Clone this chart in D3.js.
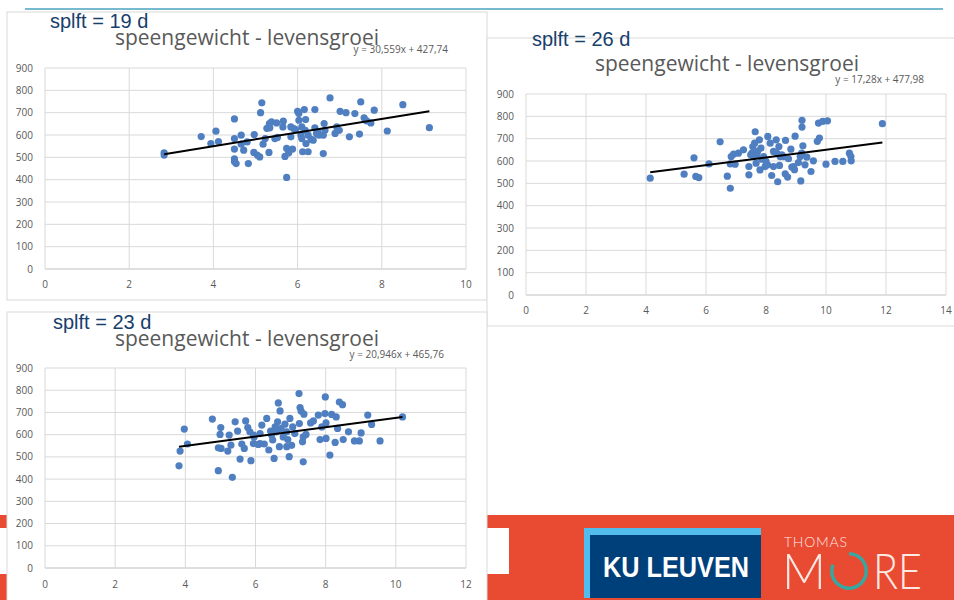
<!DOCTYPE html>
<html>
<head>
<meta charset="utf-8">
<script src="https://cdn.jsdelivr.net/npm/d3@7"></script>
<style>
  body { margin: 0; background: #fff; }
  svg { display: block; }
</style>
</head>
<body>
<svg id="slide" width="954" height="600"></svg>
<script>
// splft = 19 d
var x19 = [2.83,2.83,3.71,3.94,4.06,4.12,4.50,4.50,4.50,4.50,4.50,4.54,4.66,4.72,4.66,4.83,4.80,4.97,4.96,5.04,
  5.10,5.12,5.15,5.18,5.23,5.32,5.27,5.33,5.38,5.34,5.46,5.50,5.52,5.66,5.65,5.70,5.74,5.74,5.79,5.84,
  5.84,5.88,5.91,6.00,6.03,6.03,6.10,6.10,6.12,6.16,6.19,6.18,6.20,6.25,6.25,6.32,6.41,6.41,6.45,6.51,
  6.61,6.63,6.61,6.65,6.77,6.89,6.93,6.99,7.01,7.15,7.23,7.36,7.47,7.50,7.58,7.64,7.74,7.82,8.13,8.50,
  9.13,6.37,6.48,5.95,6.08];
var y19 = [520,510,593,562,617,571,672,584,537,493,481,472,599,532,559,472,569,602,522,510,
  502,700,744,559,584,522,630,651,659,632,584,654,589,662,636,504,410,540,520,636,
  592,537,629,706,666,696,636,584,525,714,669,621,562,525,599,580,714,632,607,599,
  517,651,599,621,766,607,636,621,706,700,592,696,604,748,677,663,654,711,618,736,
  633,577,614,624,600];
var eq19 = [30.559, 427.74];

// splft = 26 d
var x26 = [4.14,5.27,5.60,5.66,5.76,6.10,6.47,6.71,6.81,6.81,6.84,6.92,6.97,7.08,7.25,7.43,7.43,7.53,7.56,7.64,
  7.62,7.67,7.72,7.78,7.80,7.83,7.92,8.00,8.05,8.06,8.14,8.19,8.25,8.34,8.39,8.43,8.45,8.47,8.58,8.64,
  8.65,8.72,8.75,8.83,8.86,8.97,8.95,9.08,9.16,9.19,9.23,9.20,9.20,9.30,9.36,9.50,9.58,9.71,9.78,9.75,
  9.89,10.00,10.05,10.30,10.56,10.78,10.83,10.84,11.88,7.49,7.58,7.69,7.86,7.97,8.25,8.36,8.53,8.92,9.14];
var y26 = [523,541,614,531,526,587,686,532,478,587,620,631,586,635,650,575,538,635,665,731,
  680,590,643,695,560,658,620,598,583,710,680,535,643,695,507,665,580,620,620,543,
  692,528,610,653,573,711,561,593,511,635,668,782,752,583,617,553,601,688,703,770,
  777,586,780,598,598,635,620,601,767,628,620,628,608,575,575,635,628,575,620];
var eq26 = [17.28, 477.98];

// splft = 23 d
var x23 = [3.82,3.85,3.97,4.06,4.77,4.94,4.94,4.99,5.01,5.02,5.21,5.25,5.30,5.34,5.42,5.49,5.56,5.61,5.68,5.72,
  5.78,5.84,5.87,5.94,5.96,6.08,6.18,6.25,6.32,6.38,6.43,6.49,6.53,6.56,6.63,6.65,6.68,6.70,6.73,6.79,
  6.84,6.89,6.92,6.96,6.98,7.03,7.06,7.12,7.24,7.25,7.27,7.30,7.34,7.36,7.36,7.38,7.44,7.57,7.65,7.79,
  7.84,7.89,7.99,7.98,8.01,8.01,8.12,8.17,8.27,8.30,8.34,8.39,8.48,8.50,8.65,8.82,8.96,9.01,9.20,9.31,
  9.55,10.19,6.13,6.46,6.60,6.13,6.89,5.94];
var y23 = [460,526,625,558,670,438,541,601,632,538,526,598,553,408,658,616,490,558,538,662,
  632,613,483,560,590,556,643,558,673,531,616,576,493,635,658,743,546,707,628,590,
  647,546,578,501,673,552,635,605,785,650,722,706,568,478,590,692,601,653,662,688,
  578,635,770,695,583,653,508,691,565,680,628,747,735,578,613,572,572,608,688,646,
  572,680,605,598,613,560,613,598];
var eq23 = [20.946, 465.76];

var yTicks = [0,100,200,300,400,500,600,700,800,900];
var xTicks10 = [0,2,4,6,8,10];
var xTicks12 = [0,2,4,6,8,10,12];
var xTicks14 = [0,2,4,6,8,10,12,14];

var svg = d3.select("#slide");
var dotColor = "#4f7fc0";
var gray = "#595959";

// slide background: teal rule on top, orange footer
svg.append("line")
  .attr("x1", 25).attr("x2", 943).attr("y1", 9).attr("y2", 9)
  .attr("stroke", "#4aa3bf").attr("stroke-width", 1.5);

svg.append("rect")
  .attr("x", 0).attr("y", 515).attr("width", 954).attr("height", 85)
  .attr("fill", "#e84a32");
svg.append("rect")
  .attr("x", 0).attr("y", 528).attr("width", 509).attr("height", 46)
  .attr("fill", "#fff");

// KU Leuven logo
svg.append("rect").attr("x", 584).attr("y", 528).attr("width", 177).attr("height", 70).attr("fill", "#52bdec");
svg.append("rect").attr("x", 590).attr("y", 535).attr("width", 171).attr("height", 63).attr("fill", "#00407a");
svg.append("text")
  .attr("x", 603).attr("y", 577)
  .attr("font-family", "Liberation Sans, Arial, sans-serif")
  .attr("font-weight", "bold").attr("font-size", 29)
  .attr("textLength", 146).attr("lengthAdjust", "spacingAndGlyphs")
  .attr("fill", "#fff")
  .text("KU LEUVEN");

// Thomas More logo
var logoInk = "#fde8e2";
svg.append("text")
  .attr("x", 784).attr("y", 547)
  .attr("font-family", "Lato, sans-serif").attr("font-weight", 300).attr("font-size", 14)
  .attr("textLength", 63).attr("fill", logoInk)
  .text("THOMAS");
svg.append("text")
  .attr("x", 782).attr("y", 589)
  .attr("font-family", "Lato, sans-serif").attr("font-weight", 300).attr("font-size", 50)
  .attr("textLength", 44).attr("lengthAdjust", "spacingAndGlyphs")
  .attr("fill", logoInk)
  .text("M");
svg.append("path")
  .attr("transform", "translate(849,571)")
  .attr("d", d3.arc().innerRadius(15.5).outerRadius(19).startAngle(0).endAngle(Math.PI * 1.62)())
  .attr("fill", "#3aa6a0");
svg.append("text")
  .attr("x", 873).attr("y", 589)
  .attr("font-family", "Lato, sans-serif").attr("font-weight", 300).attr("font-size", 50)
  .attr("textLength", 49).attr("lengthAdjust", "spacingAndGlyphs")
  .attr("fill", logoInk)
  .text("RE");

var charts = [
  {label: "splft = 19 d", xs: x19, ys: y19, eq: eq19, xTicks: xTicks10,
   box: [7, 12, 480, 288], plot: {l: 45, r: 466, t: 68, b: 269},
   labelXY: [50, 28], titleXY: [247, 44.5], eqXY: [448, 52.5], xLabY: 288, yLabX: 33},
  {label: "splft = 26 d", xs: x26, ys: y26, eq: eq26, xTicks: xTicks14,
   box: [487, 38, 470, 288], plot: {l: 526, r: 946, t: 94, b: 295},
   labelXY: [532, 46], titleXY: [727, 70.5], eqXY: [924, 82.5], xLabY: 314, yLabX: 514},
  {label: "splft = 23 d", xs: x23, ys: y23, eq: eq23, xTicks: xTicks12,
   box: [7, 312, 480, 292], plot: {l: 45, r: 466, t: 368, b: 568},
   labelXY: [53, 328.5], titleXY: [247, 345.5], eqXY: [444, 357.5], xLabY: 588, yLabX: 33}
];

charts.forEach(function (c) {
  var g = svg.append("g");
  g.append("rect")
    .attr("x", c.box[0]).attr("y", c.box[1]).attr("width", c.box[2]).attr("height", c.box[3])
    .attr("fill", "#fff").attr("stroke", "#d9d9d9");

  var x = d3.scaleLinear().domain([0, d3.max(c.xTicks)]).range([c.plot.l, c.plot.r]);
  var y = d3.scaleLinear().domain([0, 900]).range([c.plot.b, c.plot.t]);

  // gridlines
  g.selectAll(".hg").data(yTicks).enter().append("line")
    .attr("x1", c.plot.l).attr("x2", c.plot.r)
    .attr("y1", function (d) { return y(d); }).attr("y2", function (d) { return y(d); })
    .attr("stroke", function (d) { return d === 0 ? "#bfbfbf" : "#d9d9d9"; });
  g.selectAll(".vg").data(c.xTicks).enter().append("line")
    .attr("y1", c.plot.t).attr("y2", c.plot.b)
    .attr("x1", function (d) { return x(d); }).attr("x2", function (d) { return x(d); })
    .attr("stroke", "#d9d9d9");

  // tick labels
  g.selectAll(".yl").data(yTicks).enter().append("text")
    .attr("x", c.yLabX).attr("y", function (d) { return y(d); }).attr("dy", "0.35em")
    .attr("text-anchor", "end")
    .attr("font-family", "Open Sans, sans-serif").attr("font-size", 10).attr("fill", gray)
    .text(function (d) { return d; });
  g.selectAll(".xl").data(c.xTicks).enter().append("text")
    .attr("x", function (d) { return x(d); }).attr("y", c.xLabY)
    .attr("text-anchor", "middle")
    .attr("font-family", "Open Sans, sans-serif").attr("font-size", 10).attr("fill", gray)
    .text(function (d) { return d; });

  // points
  g.selectAll("circle").data(c.xs).enter().append("circle")
    .attr("cx", function (d) { return x(d); })
    .attr("cy", function (d, i) { return y(c.ys[i]); })
    .attr("r", 3.6)
    .attr("fill", dotColor);

  // linear trendline across the data range
  var ext = d3.extent(c.xs);
  g.append("line")
    .attr("x1", x(ext[0])).attr("y1", y(c.eq[0] * ext[0] + c.eq[1]))
    .attr("x2", x(ext[1])).attr("y2", y(c.eq[0] * ext[1] + c.eq[1]))
    .attr("stroke", "#000").attr("stroke-width", 2);

  // texts
  g.append("text")
    .attr("x", c.titleXY[0]).attr("y", c.titleXY[1])
    .attr("text-anchor", "middle")
    .attr("font-family", "Open Sans, sans-serif").attr("font-size", 21).attr("fill", gray)
    .text("speengewicht - levensgroei");
  g.append("text")
    .attr("x", c.eqXY[0]).attr("y", c.eqXY[1])
    .attr("text-anchor", "end")
    .attr("font-family", "Open Sans, sans-serif").attr("font-size", 10).attr("fill", gray)
    .text("y = " + String(c.eq[0]).replace(".", ",") + "x + " + String(c.eq[1]).replace(".", ","));
  g.append("text")
    .attr("x", c.labelXY[0]).attr("y", c.labelXY[1])
    .attr("font-family", "Liberation Sans, Arial, sans-serif").attr("font-size", 20)
    .attr("fill", "#17406d")
    .text(c.label);
});
</script>
</body>
</html>
